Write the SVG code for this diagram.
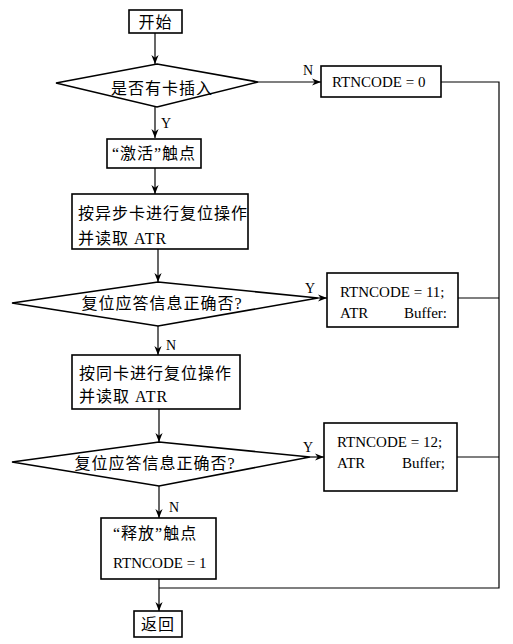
<svg xmlns="http://www.w3.org/2000/svg" width="513" height="644" viewBox="0 0 513 644">
<style>
.box{fill:#fff;stroke:#000;stroke-width:1.6}
.dia{fill:#fff;stroke:#000;stroke-width:1.6}
.cn{font-family:"Liberation Serif","Noto Sans CJK SC",serif;font-size:16px;letter-spacing:1px;fill:#000}
.en{font-family:"Liberation Serif","Noto Sans CJK SC",serif;font-size:15px;fill:#000}
.lbl{font-family:"Liberation Serif",serif;font-size:14px;fill:#000}
.ln{fill:none;stroke:#000;stroke-width:1.2}
</style>
<defs>
<marker id="ah" viewBox="0 0 10 10" refX="10" refY="5" markerWidth="9" markerHeight="9" markerUnits="userSpaceOnUse" orient="auto">
<path d="M0,1 L10,5 L0,9 L3,5 z" fill="#000"/>
</marker>
</defs>
<rect width="513" height="644" fill="#fff"/>
<g id="connectors">
<line class="ln" x1="155" y1="33" x2="155" y2="64" marker-end="url(#ah)"/>
<line class="ln" x1="155" y1="107" x2="155" y2="138" marker-end="url(#ah)"/>
<line class="ln" x1="258" y1="82" x2="321" y2="82" marker-end="url(#ah)"/>
<line class="ln" x1="155" y1="168" x2="155" y2="194" marker-end="url(#ah)"/>
<line class="ln" x1="158" y1="249" x2="158" y2="282" marker-end="url(#ah)"/>
<line class="ln" x1="318" y1="298" x2="327" y2="298" marker-end="url(#ah)"/>
<line class="ln" x1="158" y1="326" x2="158" y2="355" marker-end="url(#ah)"/>
<line class="ln" x1="159" y1="409" x2="159" y2="442" marker-end="url(#ah)"/>
<line class="ln" x1="310" y1="457" x2="324" y2="457" marker-end="url(#ah)"/>
<line class="ln" x1="159" y1="486" x2="159" y2="518" marker-end="url(#ah)"/>
<line class="ln" x1="159" y1="579" x2="159" y2="611" marker-end="url(#ah)"/>
<polyline class="ln" points="441,82 499,82 499,588 159,588"/>
<line class="ln" x1="458" y1="298" x2="499" y2="298"/>
<line class="ln" x1="457" y1="457" x2="499" y2="457"/>
<text class="lbl" x="303" y="75">N</text>
<text class="lbl" x="161" y="128">Y</text>
<text class="lbl" x="305" y="293">Y</text>
<text class="lbl" x="166" y="350">N</text>
<text class="lbl" x="303" y="452">Y</text>
<text class="lbl" x="169" y="512">N</text>
</g>
<g id="start">
<rect class="box" x="129" y="10" width="53" height="23"/>
<text class="cn" x="155.5" y="27.5" text-anchor="middle">开始</text>
</g>
<g id="card-inserted">
<polygon class="dia" points="157,64 258,82 157,107 56,83"/>
<text class="cn" x="162" y="94" text-anchor="middle">是否有卡插入</text>
</g>
<g id="rtn0">
<rect class="box" x="321" y="66" width="120" height="31"/>
<text class="en" x="332" y="87">RTNCODE = 0</text>
</g>
<g id="activate">
<rect class="box" x="107" y="139" width="94" height="29"/>
<text class="cn" x="154" y="159" text-anchor="middle">“激活”触点</text>
</g>
<g id="async-reset">
<rect class="box" x="72" y="194" width="176" height="55"/>
<text class="cn" x="78" y="219">按异步卡进行复位操作</text>
<text class="cn" x="78" y="244">并读取 ATR</text>
</g>
<g id="check1">
<polygon class="dia" points="158,282 318,298 158,326 12,303"/>
<text class="cn" x="162" y="309" text-anchor="middle">复位应答信息正确否?</text>
</g>
<g id="rtn11">
<rect class="box" x="327" y="273" width="131" height="54"/>
<text class="en" x="340" y="297">RTNCODE = 11;</text>
<text class="en" x="340" y="318">ATR</text>
<text class="en" x="447" y="318" text-anchor="end">Buffer:</text>
</g>
<g id="sync-reset">
<rect class="box" x="72" y="355" width="168" height="54"/>
<text class="cn" x="79" y="379">按同卡进行复位操作</text>
<text class="cn" x="79" y="402">并读取 ATR</text>
</g>
<g id="check2">
<polygon class="dia" points="159,442 310,457 159,486 12,462"/>
<text class="cn" x="155" y="469" text-anchor="middle">复位应答信息正确否?</text>
</g>
<g id="rtn12">
<rect class="box" x="324" y="423" width="133" height="68"/>
<text class="en" x="337" y="447">RTNCODE = 12;</text>
<text class="en" x="337" y="468">ATR</text>
<text class="en" x="445" y="468" text-anchor="end">Buffer;</text>
</g>
<g id="release">
<rect class="box" x="101" y="518" width="115" height="61"/>
<text class="cn" x="113" y="539">“释放”触点</text>
<text class="en" x="113" y="568">RTNCODE = 1</text>
</g>
<g id="return">
<rect class="box" x="134" y="611" width="48" height="26"/>
<text class="cn" x="158" y="630" text-anchor="middle">返回</text>
</g>
</svg>
